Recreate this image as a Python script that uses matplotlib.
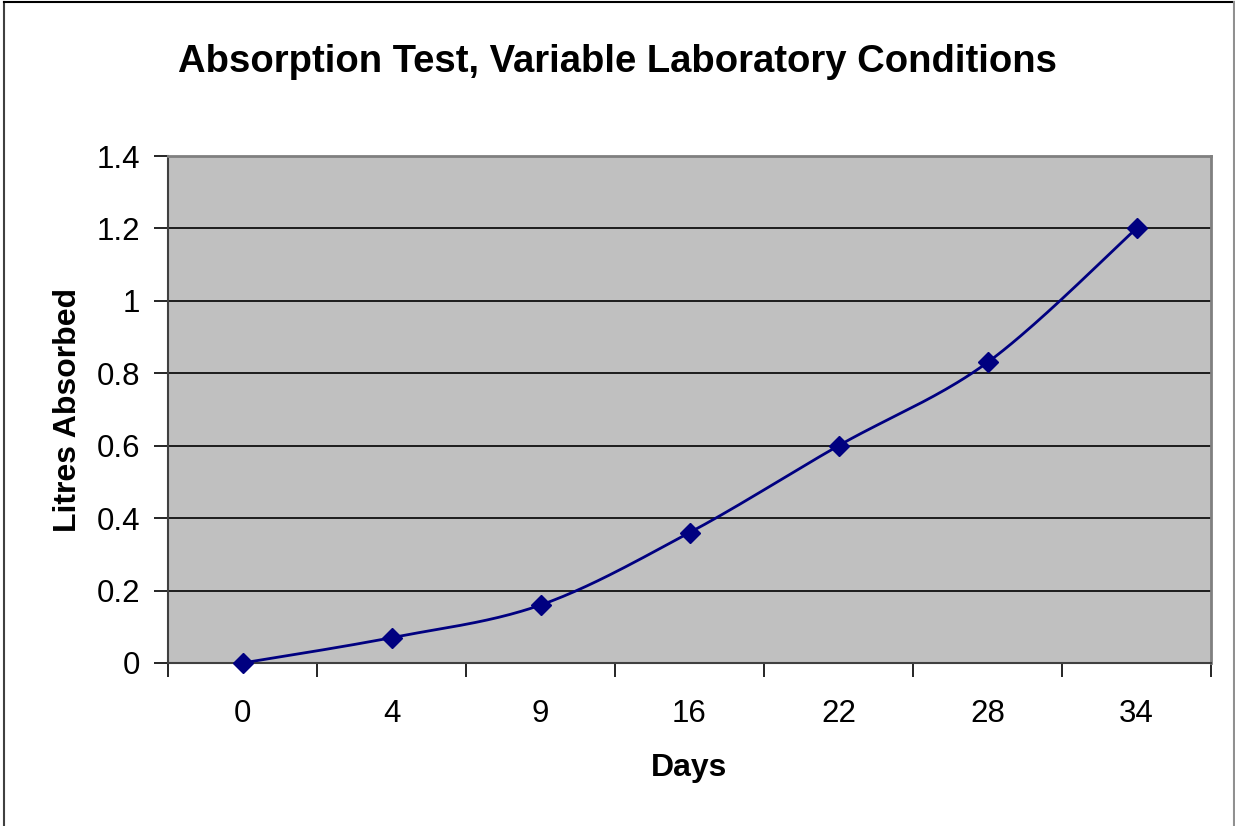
import numpy as np
import matplotlib
matplotlib.use("Agg")
import matplotlib.pyplot as plt
from matplotlib.lines import Line2D

days = ["0", "4", "9", "16", "22", "28", "34"]
litres = [0.0, 0.07, 0.16, 0.36, 0.60, 0.83, 1.20]
yticks = [0, 0.2, 0.4, 0.6, 0.8, 1, 1.2, 1.4]
ytick_labels = ["0", "0.2", "0.4", "0.6", "0.8", "1", "1.2", "1.4"]

plt.rcParams['font.family'] = ['Liberation Sans', 'DejaVu Sans']

fig = plt.figure(figsize=(12.35, 8.26), dpi=100)
ax = fig.add_axes([168/1235, 1-663/826, (1211-168)/1235, (663-156)/826])
ax.set_facecolor('#c0c0c0')

x = np.arange(len(days), dtype=float)
y = np.array(litres)

# Catmull-Rom style smoothing (rendering like Excel's smoothed line)
px = np.concatenate([[x[0]], x, [x[-1]]])
py = np.concatenate([[y[0]], y, [y[-1]]])
cx, cy = [], []
t = np.linspace(0, 1, 40)
for i in range(1, len(px) - 2):
    p0 = np.array([px[i], py[i]])
    p3 = np.array([px[i+1], py[i+1]])
    p1 = p0 + (np.array([px[i+1], py[i+1]]) - np.array([px[i-1], py[i-1]])) / 6
    p2 = p3 - (np.array([px[i+2], py[i+2]]) - np.array([px[i], py[i]])) / 6
    b = ((1-t)**3)[:, None]*p0 + (3*(1-t)**2*t)[:, None]*p1 + (3*(1-t)*t**2)[:, None]*p2 + (t**3)[:, None]*p3
    cx.extend(b[:, 0]); cy.extend(b[:, 1])

ax.plot(cx, cy, color='#000080', lw=2, zorder=3, clip_on=False)
ax.plot(x, y, linestyle='none', marker='D', ms=10, color='#000080', zorder=4, clip_on=False)

ax.set_xlim(-0.5, len(days) - 0.5)
ax.set_ylim(0, 1.4)
ax.set_yticks(yticks)
ax.set_yticklabels(ytick_labels, fontsize=22.5)
ax.set_xticks(x)
ax.set_xticklabels(days, fontsize=22.5)
ax.set_xticks(np.arange(-0.5, len(days), 1.0), minor=True)
ax.tick_params(axis='x', which='major', length=0, pad=26)
ax.tick_params(axis='x', which='minor', length=10, width=1.2, color='black', direction='out')
ax.tick_params(axis='y', length=10, width=1.2, color='black', direction='out', pad=10)

ax.grid(axis='y', color='black', lw=1.2)
ax.set_axisbelow(True)
for s in ['top', 'right']:
    ax.spines[s].set_color('#808080')
    ax.spines[s].set_linewidth(2)
for s in ['left', 'bottom']:
    ax.spines[s].set_color('#404040')
    ax.spines[s].set_linewidth(1.5)

ax.set_xlabel('Days', fontsize=23, fontweight='bold', labelpad=17)
ax.set_ylabel('Litres Absorbed', fontsize=23, fontweight='bold', labelpad=10)
fig.text(618/1235, 1-62/826, 'Absorption Test, Variable Laboratory Conditions',
         fontsize=27.5, fontweight='bold', ha='center', va='center')

# outer chart border (top, left, right)
fig.add_artist(Line2D([3.5/1235, 3.5/1235], [0, 1-2/826], transform=fig.transFigure, color='#404040', lw=1.5))
fig.add_artist(Line2D([3.5/1235, 1233.5/1235], [1-2/826, 1-2/826], transform=fig.transFigure, color='black', lw=1.5))
fig.add_artist(Line2D([1233.5/1235, 1233.5/1235], [0, 1-2/826], transform=fig.transFigure, color='#909090', lw=1.5))

fig.savefig('out.png', dpi=100)
